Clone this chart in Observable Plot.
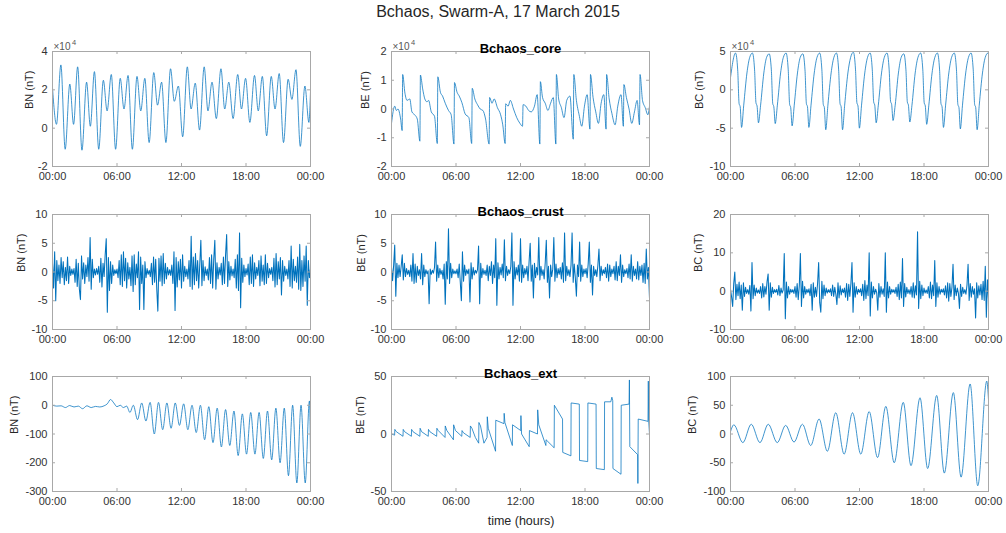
<!DOCTYPE html>
<html><head><meta charset="utf-8">
<script src="https://cdn.jsdelivr.net/npm/d3@7"></script>
<script src="https://cdn.jsdelivr.net/npm/@observablehq/plot@0.6"></script>
<style>
body{margin:0;background:#fff;font-family:"Liberation Sans",Arial,sans-serif;}
#fig{position:relative;width:1006px;height:533px;overflow:hidden;background:#fff}
.panel{position:absolute}
#title{position:absolute;top:3px;left:0;width:996px;text-align:center;font-size:16px;color:#262626}
#xlabel{position:absolute;top:514px;left:421px;width:200px;text-align:center;font-size:12.5px;color:#262626}
</style></head><body>
<div id="fig"><div id="title">Bchaos, Swarm-A, 17 March 2015</div><div id="xlabel">time (hours)</div></div>
<script>
// ---------- x axis (hours of 17 March 2015) ----------
const xTickValues = [0, 6, 12, 18, 24];
const xTickLabels = ["00:00", "06:00", "12:00", "18:00", "00:00"];

// ---------- row titles ----------
const rowTitles = ["Bchaos_core", "Bchaos_crust", "Bchaos_ext"];
const compLabels = ["BN (nT)", "BE (nT)", "BC (nT)"];

// ---------- Bchaos_core (values in units of 10^4 nT) : [hour, value] ----------
const coreBN = [[0,2.1],[0.37,0.2],[0.78,3.3],[1.18,-1.1],[1.61,2.3],[1.96,0.2],[2.34,3.2],[2.74,-1.15],[3.17,2.4],[3.52,0.1],[3.90,2.95],[4.30,-1.1],[4.73,2.5],[5.08,0.9],[5.47,2.8],[5.87,-1.1],[6.30,2.6],[6.65,1.0],[7.03,2.75],[7.43,-1.1],[7.86,2.7],[8.21,0.9],[8.59,2.6],[8.99,-0.75],[9.42,2.9],[9.77,1.2],[10.15,2.4],[10.55,-0.75],[10.98,3.1],[11.33,1.4],[11.71,2.2],[12.11,-0.45],[12.54,3.2],[12.89,1.0],[13.28,2.35],[13.68,-0.1],[14.11,3.2],[14.46,0.9],[14.84,2.4],[15.24,0.5],[15.67,3.1],[16.02,1.0],[16.40,2.4],[16.80,0.5],[17.23,2.8],[17.58,1.0],[17.96,2.6],[18.36,0.3],[18.79,2.75],[19.14,0.9],[19.52,2.7],[19.92,-0.4],[20.35,2.7],[20.70,1.0],[21.09,2.85],[21.49,-0.75],[21.92,2.55],[22.27,1.5],[22.65,3.05],[23.05,-0.95],[23.48,2.2],[23.85,0.3],[24.0,1.9]];
const coreBE = [[0,-0.5],[0.30,0.1],[0.45,-0.05],[0.60,0.0],[0.85,-0.35],[0.99,-0.75],[1.04,1.2],[1.25,0.55],[1.45,0.3],[1.70,0.35],[1.90,-0.1],[2.15,-0.2],[2.40,-0.35],[2.64,-1.12],[2.69,1.18],[2.90,0.7],[3.10,0.35],[3.30,0.25],[3.45,0.3],[3.70,-0.1],[4.00,-0.25],[4.26,-1.2],[4.31,1.12],[4.55,0.58],[4.75,0.45],[5.00,0.2],[5.30,-0.05],[5.55,-0.2],[5.81,-1.22],[5.86,0.92],[6.10,0.58],[6.30,0.45],[6.55,0.22],[6.85,-0.17],[7.20,-0.3],[7.46,-1.2],[7.51,0.72],[7.75,0.35],[8.00,0.15],[8.25,0.0],[8.50,-0.05],[8.75,-0.35],[9.08,-1.22],[9.13,0.4],[9.35,0.2],[9.55,0.35],[9.85,0.05],[10.15,-0.2],[10.35,-0.55],[10.57,-1.2],[10.62,0.18],[10.85,0.1],[11.05,0.3],[11.35,0.0],[11.65,-0.3],[11.95,-0.5],[12.19,-0.6],[12.24,0.15],[12.50,0.1],[12.75,-0.05],[13.00,-0.1],[13.30,0.1],[13.55,0.5],[13.80,-1.22],[13.85,0.95],[14.05,0.4],[14.30,0.2],[14.55,-0.05],[14.80,0.2],[15.05,0.4],[15.29,-1.22],[15.34,1.2],[15.55,0.35],[15.80,0.05],[16.05,-0.3],[16.30,0.3],[16.60,0.45],[16.91,-1.05],[16.96,1.2],[17.20,0.3],[17.45,-0.2],[17.70,-0.6],[17.95,0.1],[18.20,0.5],[18.46,-0.7],[18.51,1.2],[18.75,0.4],[19.00,-0.1],[19.25,-0.5],[19.50,0.2],[19.75,0.5],[19.96,-0.7],[20.01,1.2],[20.25,0.35],[20.50,-0.15],[20.80,-0.55],[21.05,0.1],[21.35,0.5],[21.57,-0.6],[21.62,0.85],[21.85,0.4],[22.10,0.0],[22.35,-0.5],[22.60,-0.1],[22.85,0.3],[23.07,-0.55],[23.12,1.2],[23.35,0.3],[23.60,0.05],[23.85,-0.2],[24.0,0.1]];
const coreBC = [[0,1.6],[0.47,4.8],[0.67,2.6],[0.80,-1.8],[0.90,-2.2],[1.03,-4.9],[1.23,-2.0],[1.53,2.2],[1.78,4.2],[2.04,4.8],[2.24,2.6],[2.37,-1.7],[2.47,-2.1],[2.60,-4.3],[2.80,-2.0],[3.10,2.2],[3.35,4.2],[3.60,4.7],[3.80,2.6],[3.93,-1.8],[4.03,-2.2],[4.16,-4.4],[4.36,-2.0],[4.66,2.2],[4.91,4.2],[5.17,4.8],[5.37,2.6],[5.50,-1.9],[5.60,-2.3],[5.73,-4.7],[5.93,-2.0],[6.23,2.2],[6.48,4.2],[6.73,4.7],[6.93,2.6],[7.06,-1.8],[7.16,-2.2],[7.29,-4.9],[7.49,-2.0],[7.79,2.2],[8.04,4.2],[8.30,4.8],[8.50,2.6],[8.63,-1.9],[8.73,-2.3],[8.86,-5.2],[9.06,-2.0],[9.36,2.2],[9.61,4.2],[9.86,4.8],[10.06,2.6],[10.19,-1.8],[10.29,-2.2],[10.42,-5.2],[10.62,-2.0],[10.92,2.2],[11.17,4.2],[11.43,4.9],[11.63,2.6],[11.76,-1.7],[11.86,-2.1],[11.99,-5.0],[12.19,-2.0],[12.49,2.2],[12.74,4.2],[12.99,4.8],[13.19,2.6],[13.32,-1.6],[13.42,-2.0],[13.55,-4.3],[13.75,-2.0],[14.05,2.2],[14.30,4.2],[14.56,4.8],[14.76,2.6],[14.89,-1.5],[14.99,-1.9],[15.12,-4.0],[15.32,-2.0],[15.62,2.2],[15.87,4.2],[16.12,4.7],[16.32,2.6],[16.45,-1.6],[16.55,-2.0],[16.68,-4.2],[16.88,-2.0],[17.18,2.2],[17.43,4.2],[17.69,4.8],[17.89,2.6],[18.02,-1.7],[18.12,-2.1],[18.25,-4.5],[18.45,-2.0],[18.75,2.2],[19.00,4.2],[19.25,4.8],[19.45,2.6],[19.58,-1.8],[19.68,-2.2],[19.81,-4.9],[20.01,-2.0],[20.31,2.2],[20.56,4.2],[20.82,4.8],[21.02,2.6],[21.15,-1.9],[21.25,-2.3],[21.38,-5.1],[21.58,-2.0],[21.88,2.2],[22.13,4.2],[22.38,4.8],[22.58,2.6],[22.71,-1.9],[22.81,-2.3],[22.94,-5.2],[23.14,-2.0],[23.44,2.2],[23.69,4.2],[23.95,4.8],[24.0,4.7]];

// ---------- Bchaos_crust (nT), one reading every 0.1 h ----------
const crustStep = 0.1;
const crustBN = [
1.5,-2.8,3.5,-5.0,2.0,-1.5,1.2,-2.0,2.5,-1.0,
1.8,-2.2,0.8,-1.5,2.6,-2.0,1.0,-0.6,0.5,-0.4,
0.6,-1.8,2.2,-2.5,1.5,-3.0,-4.8,2.8,-1.2,1.6,
-2.0,1.2,-0.8,2.5,-1.6,6.0,-3.0,2.2,-1.0,0.5,
-0.5,0.6,-0.4,1.0,-1.8,2.4,-2.6,1.5,-0.8,3.0,
5.8,-7.0,2.5,-3.2,1.8,-2.0,1.2,-0.6,0.4,-0.3,
0.5,-1.0,2.0,-2.2,3.0,-2.5,3.5,-1.5,2.4,-2.8,
1.6,-1.2,0.8,-2.4,2.8,-3.4,3.0,-2.2,1.4,-1.0,
3.5,-6.5,2.6,-2.0,1.2,-6.5,1.8,-1.0,0.6,-0.4,
0.3,-0.8,1.5,-2.2,2.6,-1.8,2.2,-3.0,-6.8,2.4,
-1.6,2.8,-2.4,3.2,-2.0,1.5,-1.2,0.8,-0.5,0.4,
-0.6,1.2,-2.0,3.5,-6.7,2.5,-2.6,1.8,-1.4,2.2,
-2.8,3.0,-1.6,1.0,-0.8,0.5,-1.2,2.0,-2.5,6.2,
-3.0,2.6,-2.2,3.2,-1.5,2.0,-2.8,1.4,5.5,-2.4,
2.0,-1.5,0.9,-0.6,0.5,-1.4,2.5,-2.0,3.0,-2.8,
2.2,5.5,-3.0,1.6,-1.2,0.8,-0.5,1.5,-2.2,2.6,
-2.0,3.0,6.5,-2.5,1.8,-1.4,1.0,-0.7,0.5,-1.0,
2.2,-2.8,3.0,-3.2,6.8,-6.2,2.4,-1.8,1.2,-0.8,
0.6,-0.5,1.4,-2.2,2.6,-2.0,3.0,-2.5,1.6,-1.2,
0.8,-0.6,2.0,-2.4,2.8,-1.6,1.2,-2.2,3.0,-2.0,
1.5,-1.0,0.6,-0.4,0.8,-1.5,2.4,-2.6,3.2,-2.2,
1.8,-1.2,2.5,-4.0,2.0,-1.6,1.0,-0.6,0.5,-1.2,
2.0,-2.5,4.5,-2.8,2.2,-1.5,1.0,-1.8,2.6,-3.0,
4.8,-3.2,2.0,-2.5,2.8,-1.6,4.5,-5.8,2.0,-1.0,
0.5];
const crustBE = [
0.8,-1.5,1.2,4.7,-4.2,1.5,-1.0,1.2,-0.8,1.0,
3.0,-1.4,1.5,-0.8,0.6,-0.4,0.3,-0.8,1.2,-1.6,
3.2,-2.0,1.4,-1.8,1.0,-0.6,0.4,-1.2,3.2,-2.2,
1.2,-0.8,0.4,-0.3,0.2,-5.5,0.5,-0.4,0.3,-0.2,
0.8,5.2,-1.6,1.2,-1.0,0.6,-0.4,0.3,-1.2,1.4,
-5.6,1.8,-1.2,7.5,-2.0,1.5,-1.0,0.5,-0.3,0.2,
-0.3,0.5,-1.0,1.4,-1.8,-5.0,3.5,-1.6,1.2,-0.6,
0.4,-0.3,0.5,-5.2,1.6,-1.2,0.8,-0.5,0.3,-0.2,
0.4,4.5,-5.5,1.5,-1.0,0.6,-0.4,0.3,-0.6,1.2,
-1.5,1.0,-0.6,1.8,-2.0,1.2,-1.0,5.8,-5.8,1.6,
-1.2,0.8,-0.5,1.4,-1.0,5.6,-1.5,1.0,-0.6,0.4,
-0.3,1.0,6.8,-5.8,1.8,-1.2,0.8,-0.5,1.2,-1.6,
5.8,-1.8,1.2,-1.0,0.6,-0.4,1.0,-1.5,1.8,5.0,
-1.6,1.2,-4.5,1.5,-1.0,0.8,-0.5,6.0,-1.4,1.0,
-0.6,0.4,-1.2,1.6,5.5,-1.8,1.0,-4.5,1.2,-0.8,
0.5,6.0,-1.6,1.4,-1.0,0.6,-0.4,0.8,-1.2,1.6,
-1.8,6.8,-1.5,1.0,-0.6,0.4,-0.8,1.2,6.8,-1.8,
1.4,-1.0,-4.2,1.2,-0.8,5.2,-1.6,1.2,-0.8,0.5,
-0.3,0.6,-1.0,1.5,5.2,-1.8,1.2,-4.0,1.0,-0.6,
0.4,-0.8,1.2,4.0,-1.5,1.0,-0.6,0.4,-0.3,0.8,
-1.0,1.4,-1.6,1.2,-0.8,0.5,-0.3,1.0,-1.4,1.8,
-1.5,1.0,-0.6,3.0,-1.8,1.2,-0.8,0.4,-0.3,0.6,
-1.0,1.4,-1.2,3.0,-1.6,1.0,-0.6,0.5,-1.2,1.8,
-1.4,1.0,-0.6,1.2,-1.8,1.5,-2.0,4.0,-1.2,0.8,
-4.5];
const crustBC = [
0.5,-1.5,-4.0,2.0,5.0,-2.2,1.8,-1.2,2.4,-2.0,
1.6,-5.0,2.2,-1.4,1.0,-0.6,0.4,-0.8,1.5,-5.2,
7.5,-2.0,1.6,-1.2,0.8,-0.5,0.3,-0.6,1.2,-1.8,
2.0,-1.5,1.2,-0.8,2.5,4.5,-5.0,2.2,-1.6,1.0,
-0.6,0.4,-0.3,0.5,-1.0,1.5,-1.2,0.8,-0.5,0.3,
9.8,-7.2,2.4,-1.8,1.2,-0.8,0.5,-0.3,0.4,-0.6,
1.2,-1.6,2.0,-2.2,1.4,9.8,-4.0,2.6,-1.8,1.2,
-0.8,0.5,-0.4,0.6,-1.2,1.8,-5.0,2.2,-1.6,1.0,
-1.4,2.0,7.5,-3.0,-5.5,2.6,-2.0,1.6,-1.2,0.8,
-0.5,0.4,-0.3,0.6,-1.2,1.6,-1.4,1.0,-0.8,-3.5,
2.2,-1.8,1.4,-1.0,0.6,-0.4,0.8,-1.6,2.0,-2.4,
1.8,-1.4,2.0,7.5,-5.5,2.2,-1.6,1.2,-0.8,0.5,
-0.3,0.6,-1.2,1.8,-2.4,2.8,-2.0,1.6,-1.2,10.0,
-6.5,2.4,-1.8,1.2,-0.8,0.5,-0.4,-5.0,2.0,-1.6,
1.2,-0.8,0.6,-1.4,10.0,-5.5,2.4,-1.8,1.2,-0.8,
0.5,-0.3,0.4,-0.6,1.0,-1.4,1.8,-2.2,2.4,-1.8,
8.5,-4.0,2.0,-1.5,1.0,-0.6,0.4,-0.8,1.2,-1.6,
2.2,-1.8,1.4,-1.0,15.5,-4.5,2.6,-2.0,1.6,-1.2,
0.8,-0.5,0.3,-0.6,1.2,-1.8,2.4,-2.0,1.6,-1.2,
8.0,-4.0,2.2,-1.6,1.2,-0.8,0.5,-0.3,0.6,-1.0,
1.4,-1.8,2.2,-2.6,2.0,-1.4,1.0,7.0,-2.2,1.6,
-1.2,0.8,-0.5,-4.5,1.8,-1.4,1.0,-0.6,0.4,-0.8,
1.6,7.0,-2.4,2.0,-1.6,1.2,-0.8,0.6,-7.0,2.2,
-1.8,1.4,-1.0,1.8,-2.2,2.6,-2.4,6.5,-6.8,3.0,
-2.0];

// ---------- Bchaos_ext (nT) : [hour, value] ----------
const extBN = [[0,0],[0.4,-3],[0.8,-2],[1.2,-8],[1.6,-1],[2.0,-6],[2.4,-3],[2.8,-12],[3.2,-2],[3.6,-8],[4.0,-4],[4.4,-6],[4.8,-2],[5.1,5],[5.4,20],[5.7,8],[6.0,-5],[6.3,0],[6.6,-8],[6.9,-3],[7.2,-25],[7.52,0],[7.91,-50],[8.30,8],[8.69,-55],[9.08,10],[9.47,-100],[9.86,10],[10.25,-85],[10.64,8],[11.03,-80],[11.42,8],[11.81,-70],[12.20,5],[12.59,-85],[12.98,0],[13.37,-95],[13.76,0],[14.15,-120],[14.54,-5],[14.93,-130],[15.32,-10],[15.71,-145],[16.10,-15],[16.49,-140],[16.88,-20],[17.27,-175],[17.66,-30],[18.05,-170],[18.44,-25],[18.83,-170],[19.22,-25],[19.61,-185],[20.00,-20],[20.39,-190],[20.78,-10],[21.17,-200],[21.56,-10],[21.95,-245],[22.34,0],[22.73,-270],[23.12,0],[23.51,-270],[23.90,15],[24.0,-170]];
const extBE = [[0,0],[0.29,-1],[0.31,4],[0.45,2],[1.07,-2],[1.09,4],[1.22,2],[1.85,-2],[1.87,4],[2.0,2],[2.64,-2],[2.66,5],[2.8,2],[3.42,-2],[3.44,4],[3.57,2],[4.20,-2],[4.22,5],[4.35,3],[4.98,-3],[5.00,7],[5.15,3],[5.76,-5],[5.78,8],[5.95,3],[6.54,-2],[6.56,3],[6.70,1],[7.32,-3],[7.34,7],[7.48,5],[7.80,-3],[8.11,-8],[8.13,10],[8.28,7],[8.60,-8],[8.89,-3],[8.91,15],[9.0,5],[9.68,-15],[9.70,12],[10.46,9],[10.48,18],[10.55,10],[11.24,-10],[11.26,8],[12.02,3],[12.04,16],[12.1,0],[12.81,-11],[12.83,3],[13.58,0],[13.60,21],[13.7,8],[14.36,-10],[14.38,-5],[15.13,-12],[15.15,25],[15.91,13],[15.93,-16],[16.69,-19],[16.71,27],[17.47,26],[17.49,-23],[18.25,-24],[18.27,27],[19.03,26],[19.05,-30],[19.80,-31],[19.82,28],[20.40,28],[20.50,32],[20.58,29],[20.60,-30],[21.35,-35],[21.37,25],[22.10,26],[22.13,47],[22.17,-11],[22.90,-18],[22.92,-43],[22.95,13],[23.86,11],[23.89,46],[23.92,12],[24.0,0]];
const extBC = [[0,4],[0.31,16],[1.15,-15],[1.93,17],[2.74,-15],[3.51,17],[4.35,-15],[5.13,15],[5.91,-14],[6.69,17],[7.46,-20],[8.24,26],[9.01,-30],[9.79,37],[10.57,-35],[11.35,37],[12.12,-35],[12.90,39],[13.68,-41],[14.45,48],[15.23,-50],[16.07,55],[16.79,-55],[17.63,63],[18.34,-60],[19.18,67],[19.89,-68],[20.73,72],[21.45,-75],[22.29,87],[23.0,-90],[23.84,92],[24.0,60]];

// ---------- y-axis tick values (first/last = domain) ----------
const coreBNTicks = [-2, 0, 2, 4];
const coreBETicks = [-2, -1, 0, 1, 2];
const coreBCTicks = [-10, -5, 0, 5];
const crustBNTicks = [-10, -5, 0, 5, 10];
const crustBETicks = [-10, -5, 0, 5, 10];
const crustBCTicks = [-10, 0, 10, 20];
const extBNTicks = [-300, -200, -100, 0, 100];
const extBETicks = [-50, 0, 50];
const extBCTicks = [-100, -50, 0, 50, 100];
const exponentText = "\u00d710";
const exponentPower = "4";

// ---------- build ----------
const pairs = a => a.map(([t, v]) => ({t, v}));
const sampled = a => a.map((v, i) => ({t: i * crustStep, v}));

const panels = [
  {data: pairs(coreBN), ticks: coreBNTicks, curve: "monotone-x", row: 0, col: 0, yl: 23.5},
  {data: pairs(coreBE), ticks: coreBETicks, curve: "monotone-x", row: 0, col: 1, yl: 26},
  {data: pairs(coreBC), ticks: coreBCTicks, curve: "monotone-x", row: 0, col: 2, yl: 31},
  {data: sampled(crustBN), ticks: crustBNTicks, curve: "linear", row: 1, col: 0, yl: 31},
  {data: sampled(crustBE), ticks: crustBETicks, curve: "linear", row: 1, col: 1, yl: 30},
  {data: sampled(crustBC), ticks: crustBCTicks, curve: "linear", row: 1, col: 2, yl: 32},
  {data: pairs(extBN), ticks: extBNTicks, curve: "monotone-x", row: 2, col: 0, yl: 38},
  {data: pairs(extBE), ticks: extBETicks, curve: "linear", row: 2, col: 1, yl: 31},
  {data: pairs(extBC), ticks: extBCTicks, curve: "monotone-x", row: 2, col: 2, yl: 38}
];

const W = 320, H = 155, ML = 48, MR = 14, MT = 18, MB = 22;
const FW = W - ML - MR, FH = H - MT - MB;
const colLeft = [4, 343, 682];
const rowTop = [33, 196, 358];
const lineColor = "#0072BD";
const boxColor = "#a8a8a8";
const fig = document.getElementById("fig");

panels.forEach(p => {
  const yDomain = [p.ticks[0], p.ticks[p.ticks.length - 1]];
  const marks = [
    Plot.line(p.data, {x: "t", y: "v", stroke: lineColor, strokeWidth: p.row === 1 ? 1.05 : 0.75, curve: p.curve, clip: true}),
    Plot.frame({stroke: boxColor, strokeWidth: 1}),
    Plot.ruleX(xTickValues, {x: d => d, insetTop: FH - 3, stroke: boxColor}),
    Plot.ruleX(xTickValues, {x: d => d, insetBottom: FH - 3, stroke: boxColor}),
    Plot.ruleY(p.ticks, {y: d => d, insetRight: FW - 3, stroke: boxColor}),
    Plot.ruleY(p.ticks, {y: d => d, insetLeft: FW - 3, stroke: boxColor}),
    Plot.axisX(xTickValues, {label: null, tickSize: 0, tickPadding: 6, tickFormat: d => xTickLabels[xTickValues.indexOf(d)], fontSize: 11}),
    Plot.axisY(p.ticks, {label: null, tickSize: 0, tickPadding: 5, tickFormat: d => String(d), fontSize: 11}),
    Plot.text([compLabels[p.col]], {text: d => d, frameAnchor: "left", dx: -p.yl, rotate: -90, fontSize: 11, fill: "#262626"})
  ];
  if (p.col === 1) {
    marks.push(Plot.text([rowTitles[p.row]], {text: d => d, frameAnchor: "top", dy: -7.5, fontSize: 13, fontWeight: "bold", fill: "#000"}));
  }
  if (p.row === 0) {
    marks.push(Plot.text([exponentText], {text: d => d, frameAnchor: "top-left", dx: 1, dy: -2, lineAnchor: "bottom", textAnchor: "start", fontSize: 10, fill: "#555"}));
    marks.push(Plot.text([exponentPower], {text: d => d, frameAnchor: "top-left", dx: 19.5, dy: -7, lineAnchor: "bottom", textAnchor: "start", fontSize: 7.5, fill: "#555"}));
  }
  const chart = Plot.plot({
    width: W, height: H,
    marginLeft: ML, marginRight: MR, marginTop: MT, marginBottom: MB,
    x: {domain: [0, 24], label: null},
    y: {domain: yDomain, label: null},
    style: {color: "#333", background: "transparent", fontFamily: "'Liberation Sans', Arial, sans-serif", fontSize: "11px", overflow: "visible"},
    marks
  });
  const div = document.createElement("div");
  div.className = "panel";
  div.style.left = colLeft[p.col] + "px";
  div.style.top = rowTop[p.row] + "px";
  div.appendChild(chart);
  fig.appendChild(div);
});
</script>
</body></html>
